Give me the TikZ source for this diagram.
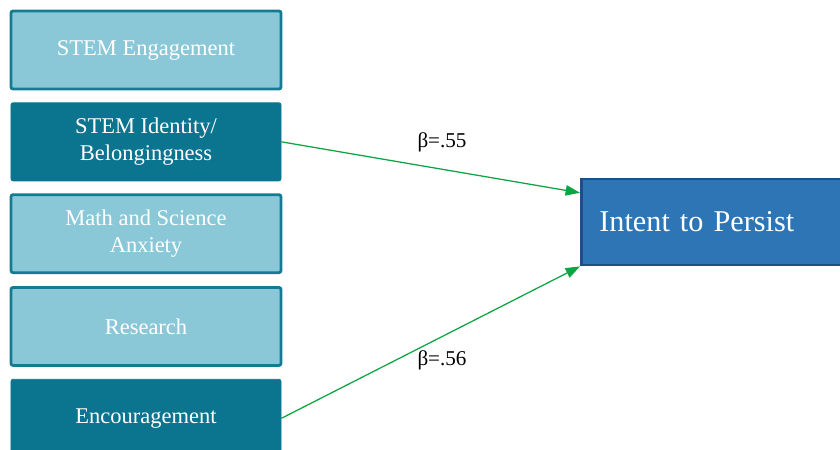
\documentclass[tikz,border=0pt]{standalone}
\usepackage{fontspec}
\setmainfont{Liberation Serif}
\usetikzlibrary{arrows.meta,positioning}

\definecolor{lightteal}{HTML}{8AC8D8}
\definecolor{darkteal}{HTML}{0B748F}
\definecolor{tealedge}{HTML}{137C93}
\definecolor{outblue}{HTML}{2E75B6}
\definecolor{outedge}{HTML}{1C4F86}
\definecolor{pathgreen}{HTML}{0DA544}

\begin{document}
\begin{tikzpicture}[
		% Styles
		predlight/.style={rectangle, rounded corners=1.5pt, draw=tealedge, line width=2pt, fill=lightteal, minimum width=6.75cm, minimum height=1.95cm, text=white, align=center, font=\fontsize{16}{19}\selectfont},
		preddark/.style={predlight, draw=darkteal, line width=0.6pt, fill=darkteal},
		outcome/.style={rectangle, draw=outedge, line width=2pt, fill=outblue, minimum width=7cm, minimum height=2.15cm, text width=6.1cm, align=left, text=white, font=\fontsize{21.5}{25}\selectfont},
		% Arrows
		effect/.style={-{Triangle[length=0.36cm,width=0.26cm]}, line width=0.9pt, pathgreen},
		beta/.style={font=\fontsize{15}{18}\selectfont, text=black},
		]

		\useasboundingbox (0,0) rectangle (21,-11.25);

		% Predictors
		\node[predlight] (engage) at (3.65,-1.25) {STEM Engagement};
		\node[preddark, below=0.3cm of engage] (identity) {STEM Identity/\\Belongingness};
		\node[predlight, below=0.3cm of identity] (anxiety) {Math and Science\\Anxiety};
		\node[predlight, below=0.3cm of anxiety] (research) {Research};
		\node[preddark, below=0.3cm of research] (encourage) {Encouragement};

		% Outcome
		\node[outcome, anchor=west] (intent) at (14.5,-5.55) {Intent to Persist};
		\coordinate (intentin) at ([yshift=-0.38cm]intent.north west);

		% Path coefficients
		\node[beta] (beta1) at (11.05,-3.55) {β=.55};
		\node[beta] (beta2) at (11.05,-9.0) {β=.56};

		% Connections
		\draw[effect] (identity.east) -- (intentin);
		\draw[effect] (encourage.east) -- (intent.south west);

	\end{tikzpicture}
\end{document}
